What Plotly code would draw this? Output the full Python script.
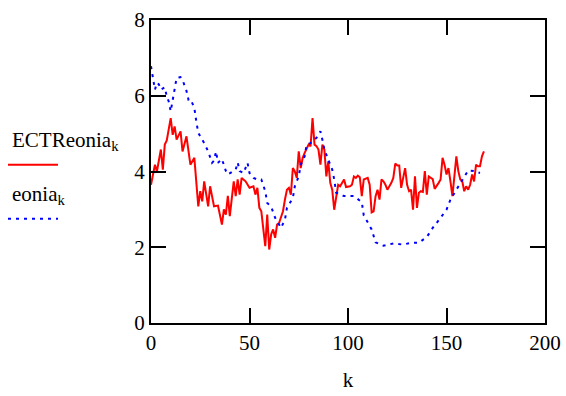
import plotly.graph_objects as go

# ECTReonia_k (red, solid)
red_k = [0, 2, 3, 5, 6, 7, 8, 10, 11, 12, 13, 15, 16, 18, 20, 22, 24, 25, 26, 27, 29, 30, 32, 34, 36, 37, 38, 39, 40, 41,
         42, 43, 44, 45, 46, 48, 49, 50, 52, 53, 54, 55, 56, 57, 58, 59, 60, 61, 62, 63, 64, 65, 67, 68, 69, 70, 71, 72, 73, 74,
         75, 76, 77, 78, 79, 80, 81, 82, 83, 84, 85, 86, 87, 88, 89, 90, 91, 92, 93, 94, 95, 96, 98, 99, 101, 102, 103, 104, 105, 106,
         107, 108, 110, 111, 112, 113, 114, 115, 116, 117, 118, 119, 120, 121, 122, 123, 124, 125, 126, 127, 128, 129, 130, 131, 132, 133,
         134, 135, 136, 137, 138, 139, 140, 141, 143, 144, 146, 147, 148, 149, 150, 151, 152, 153, 154, 155, 156, 157, 158, 159, 160, 161,
         162, 163, 164, 165, 166, 167, 168, 169]
red_v = [3.65, 4.18, 4.0, 4.58, 4.05, 4.71, 4.82, 5.41, 4.97, 5.19, 4.84, 5.06, 4.53, 4.93, 4.18, 4.36, 3.08, 3.48, 3.21, 3.74, 3.08, 3.61, 3.08, 3.10, 2.60, 3.0, 2.86, 3.36, 2.82, 3.26,
         3.74, 3.35, 3.79, 3.39, 3.83, 3.74, 3.65, 3.57, 3.61, 3.39, 3.57, 3.04, 2.95, 2.55, 2.03, 2.86, 1.94, 2.34, 2.47, 2.25, 2.60, 2.64, 2.95, 3.26, 3.52, 3.57, 3.39, 4.09, 4.0, 3.83,
         4.53, 4.09, 4.36, 4.49, 4.62, 4.71, 4.67, 5.41, 4.71, 4.67, 4.58, 4.18, 4.71, 4.58, 3.87, 4.27, 3.70, 3.52, 2.99, 3.39, 3.65, 3.61, 3.79, 3.59, 3.61, 3.65, 3.87, 3.83, 3.89, 3.85,
         3.35, 3.79, 3.83, 3.65, 2.92, 2.95, 3.35, 3.52, 3.26, 3.79, 3.74, 3.65, 3.52, 3.61, 3.70, 3.83, 4.21, 4.16, 4.16, 3.57, 3.87, 4.09, 3.65, 3.48, 3.52, 2.99,
         3.87, 3.04, 3.44, 3.48, 3.46, 4.01, 3.39, 3.87, 3.80, 3.54, 3.70, 3.79, 4.36, 4.18, 3.92, 4.09, 3.74, 3.35, 3.87, 4.40, 4.01, 3.79, 3.74, 3.48, 3.61, 3.52,
         3.65, 3.92, 3.74, 4.18, 4.14, 4.14, 4.40, 4.53]

# eonia_k (blue, dotted)
blue_k = [0, 1, 2, 3, 4, 5, 7, 8, 9, 10, 12, 13, 15, 16, 18, 19, 20, 22, 23, 24, 27, 29, 31, 32, 33, 34, 36, 38, 39, 43,
          44, 45, 47, 49, 50, 52, 54, 56, 58, 59, 61, 63, 66, 68, 69, 72, 73, 75, 76, 78, 79, 81, 84, 86, 87, 88, 90, 92, 93, 94,
          98, 103, 107, 108, 110, 112, 114, 118, 123, 128, 132, 136, 140, 143, 146, 150, 152, 155, 158, 161, 164, 167]
blue_v = [6.78, 6.42, 6.16, 6.34, 6.30, 6.16, 6.22, 5.98, 5.85, 5.59, 6.16, 6.47, 6.49, 6.42, 6.13, 5.90, 5.92, 5.68, 5.32, 5.02, 4.75, 4.53, 4.23, 4.29, 4.53, 4.23, 4.33, 4.01, 3.92, 4.05,
          4.24, 4.01, 3.96, 4.23, 3.96, 3.83, 3.79, 3.79, 3.48, 3.17, 3.07, 2.78, 2.51, 2.73, 3.04, 3.30, 3.61, 3.87, 4.18, 4.40, 4.71, 4.75, 4.89, 5.06, 4.84, 4.58, 4.31, 4.05, 3.79, 3.44,
          3.35, 3.35, 3.19, 2.84, 2.66, 2.47, 2.13, 2.04, 2.10, 2.07, 2.12, 2.12, 2.27, 2.51, 2.71, 2.99, 3.26, 3.52, 3.80, 4.03, 4.01, 3.96]

x_ticks = [0, 50, 100, 150, 200]
y_ticks = [0, 2, 4, 6, 8]
x_title = "k"
series_names = ["ECTReonia<sub>k</sub>", "eonia<sub>k</sub>"]

FONT = "Times New Roman, Liberation Serif, DejaVu Serif, serif"

def serif(s):
    return '<span style="font-family:Times New Roman, Liberation Serif, serif">%s</span>' % s

fig = go.Figure()
fig.add_trace(go.Scatter(x=red_k, y=red_v, mode="lines", line=dict(color="#ff0000", width=2), showlegend=False))
fig.add_trace(go.Scatter(x=blue_k, y=blue_v, mode="lines", line=dict(color="#0000ff", width=2, dash="3px,5px"), showlegend=False))

axis_common = dict(showgrid=False, zeroline=False, showline=True, linecolor="black", linewidth=2,
                   mirror="allticks", ticks="inside", ticklen=15, tickwidth=2, tickcolor="black",
                   automargin=False,
                   tickfont=dict(family=FONT, size=21, color="black"))

fig.update_xaxes(range=[0, 200], tickmode="array", tickvals=x_ticks, ticktext=[serif(v) for v in x_ticks],
                 title=dict(text=serif(x_title), font=dict(family=FONT, size=21, color="black"), standoff=18), **axis_common)
fig.update_yaxes(range=[0, 8], tickmode="array", tickvals=y_ticks, ticktext=[serif(v) for v in y_ticks], **axis_common)

# Legend drawn at left, Mathcad style (text above line sample)
W, H = 566 - 151 - 21, 396 - 20 - 72.5
def px(x):
    return (x - 151) / W
def py(y):
    return (323.5 - y) / H

fig.add_annotation(x=px(10), y=py(141), xref="paper", yref="paper", text=series_names[0], showarrow=False,
                   xanchor="left", yanchor="middle", font=dict(family=FONT, size=21, color="black"))
fig.add_shape(type="line", xref="paper", yref="paper", x0=px(8), x1=px(58), y0=py(165), y1=py(165),
              line=dict(color="#ff0000", width=2))
fig.add_annotation(x=px(10), y=py(195), xref="paper", yref="paper", text=series_names[1], showarrow=False,
                   xanchor="left", yanchor="middle", font=dict(family=FONT, size=21, color="black"))
fig.add_shape(type="line", xref="paper", yref="paper", x0=px(8), x1=px(58), y0=py(219), y1=py(219),
              line=dict(color="#0000ff", width=2, dash="3px,5px"))

fig.update_layout(template="none", width=566, height=396,
                  margin=dict(l=151, r=21, t=20, b=72.5, autoexpand=False),
                  font=dict(family=FONT, size=21, color="black"),
                  paper_bgcolor="white", plot_bgcolor="white")
fig.write_html("out.html")
